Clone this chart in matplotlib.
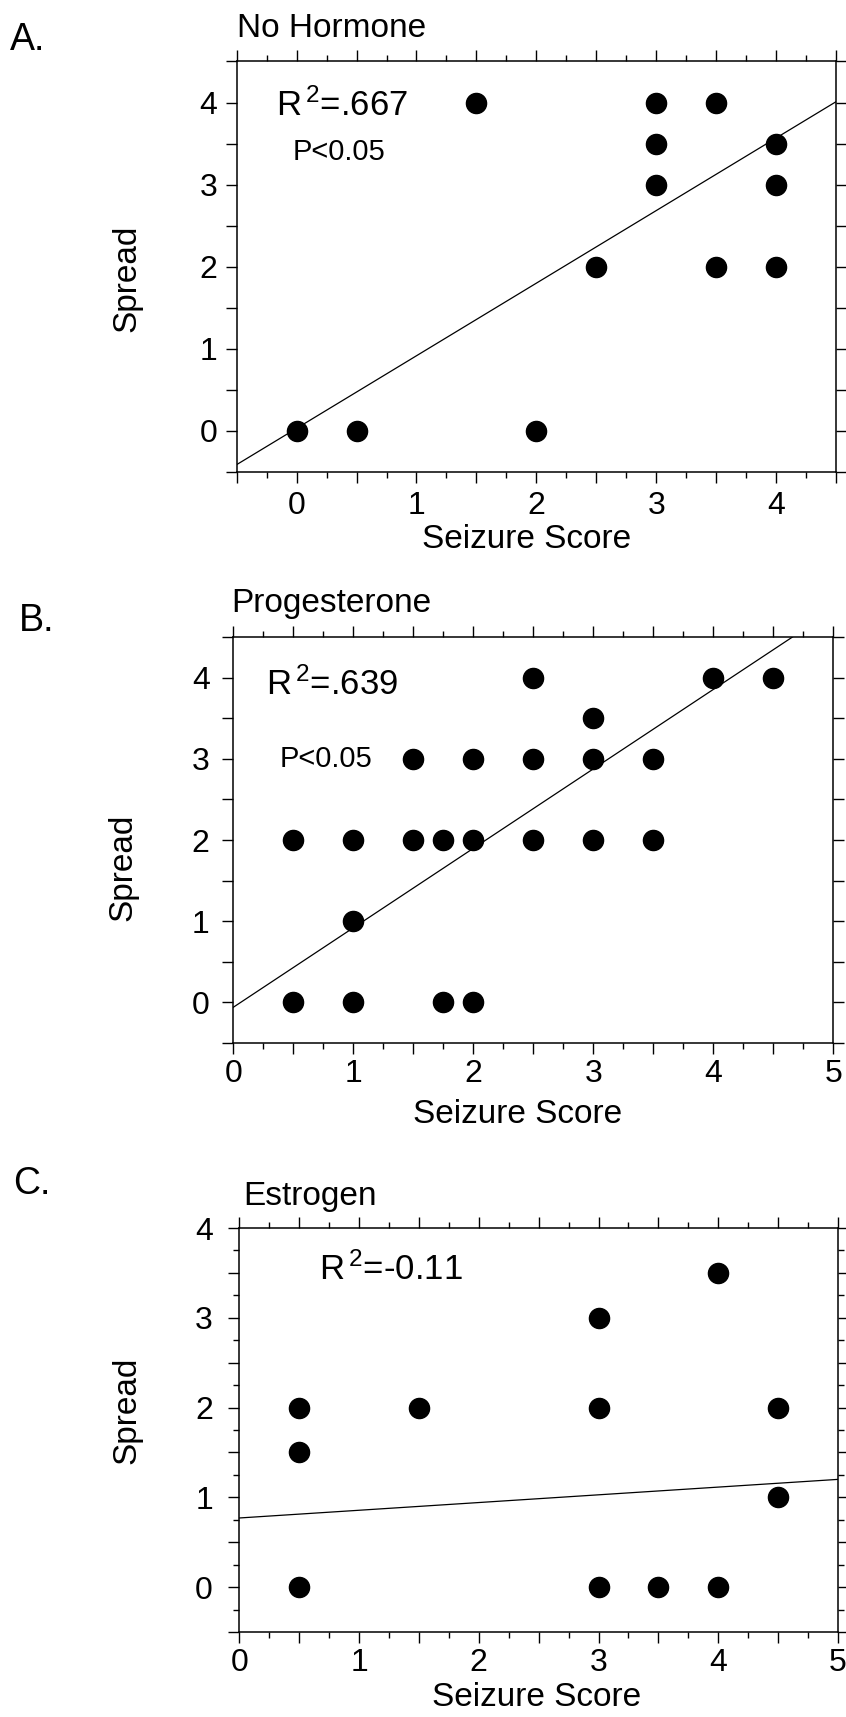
import numpy as np
import matplotlib
matplotlib.use('Agg')
import matplotlib.pyplot as plt
from matplotlib.ticker import MultipleLocator, FuncFormatter

plt.rcParams['font.family'] = ['Liberation Sans', 'DejaVu Sans']
plt.rcParams['mathtext.fontset'] = 'custom'
plt.rcParams['mathtext.rm'] = 'Liberation Sans'
plt.rcParams['mathtext.default'] = 'regular'

W, H = 846, 1717

# A. no hormone
a_score = [0, 0.5, 2, 1.5, 2.5, 3, 3, 3, 3.5, 3.5, 4, 4, 4]
a_spread = [0, 0, 0, 4, 2, 4, 3.5, 3, 4, 2, 3.5, 3, 2]
a_fit_x = [-0.5, 4.5]
a_fit_y = [-0.41, 4.01]

# B. progesterone
b_score = [0.5, 1, 1.5, 1.75, 2, 2.5, 3, 3.5,
           1.5, 2, 2.5, 3, 3.5,
           2.5, 4, 4.5, 3, 1,
           0.5, 1, 1.75, 2]
b_spread = [2, 2, 2, 2, 2, 2, 2, 2,
            3, 3, 3, 3, 3,
            4, 4, 4, 3.5, 1,
            0, 0, 0, 0]
b_fit_x = [0, 4.66]
b_fit_y = [-0.06, 4.5]

# C. estrogen
c_score = [0.5, 0.5, 0.5, 1.5, 3, 3, 3, 3.5, 4, 4, 4.5, 4.5]
c_spread = [2, 1.5, 0, 2, 3, 2, 0, 0, 3.5, 0, 2, 1]
c_fit_x = [0, 5]
c_fit_y = [0.77, 1.2]


def fx(x):
    return x / W


def fy(y):
    return 1 - y / H


def int_only(v, pos):
    if abs(v - round(v)) < 1e-6:
        return '%d' % round(v)
    return ''


fig = plt.figure(figsize=(W / 100, H / 100), dpi=100)


def make_panel(rect, xlim, ylim, y_minor, xpad, ypad):
    l, t, r, b = rect
    ax = fig.add_axes([fx(l), fy(b), (r - l) / W, (b - t) / H])
    ax.set_xlim(*xlim)
    ax.set_ylim(*ylim)
    ax.xaxis.set_major_locator(MultipleLocator(0.5))
    ax.xaxis.set_minor_locator(MultipleLocator(0.25))
    ax.yaxis.set_major_locator(MultipleLocator(0.5))
    if y_minor:
        ax.yaxis.set_minor_locator(MultipleLocator(0.25))
    else:
        ax.yaxis.set_minor_locator(MultipleLocator(10))
    ax.xaxis.set_major_formatter(FuncFormatter(int_only))
    ax.yaxis.set_major_formatter(FuncFormatter(int_only))
    ax.tick_params(which='both', direction='out', top=True, right=True, width=1.0)
    ax.tick_params(which='major', length=8, labelsize=23)
    ax.tick_params(which='minor', length=4)
    ax.tick_params(axis='x', which='major', pad=xpad)
    ax.tick_params(axis='y', which='major', pad=ypad)
    for s in ax.spines.values():
        s.set_linewidth(1.1)
    return ax


panels = [
    ((236.7, 61.5, 836, 472), (-0.5, 4.5), (-0.5, 4.5), False, 6, 6,
     a_score, a_spread, a_fit_x, a_fit_y),
    ((233.3, 637, 833.3, 1043), (0, 5), (-0.5, 4.5), False, 3.5, 9,
     b_score, b_spread, b_fit_x, b_fit_y),
    ((239.3, 1228, 838, 1632), (0, 5), (-0.5, 4), True, 3.5, 11,
     c_score, c_spread, c_fit_x, c_fit_y),
]

for rect, xlim, ylim, y_minor, xpad, ypad, xs, ys, lx, ly in panels:
    ax = make_panel(rect, xlim, ylim, y_minor, xpad, ypad)
    ax.plot(lx, ly, color='black', lw=0.9, zorder=2)
    ax.plot(xs, ys, 'o', ms=14.5, color='black', zorder=3, clip_on=False)

# panel letters and titles
fig.text(fx(10), fy(50), 'A.', fontsize=27, va='baseline')
fig.text(fx(19), fy(631), 'B.', fontsize=27, va='baseline')
fig.text(fx(13), fy(1194), 'C.', fontsize=27, va='baseline')

fig.text(fx(237), fy(37), 'No Hormone', fontsize=24, va='baseline')
fig.text(fx(231), fy(612), 'Progesterone', fontsize=24, va='baseline')
fig.text(fx(243), fy(1205), 'Estrogen', fontsize=24, va='baseline')

# statistics
fig.text(fx(276), fy(116), r'R$^{\,2}$=.667', fontsize=25, va='baseline')
fig.text(fx(293), fy(160), 'P<0.05', fontsize=21, va='baseline')
fig.text(fx(266), fy(695), r'R$^{\,2}$=.639', fontsize=25, va='baseline')
fig.text(fx(280), fy(767), 'P<0.05', fontsize=21, va='baseline')
fig.text(fx(319), fy(1280), r'R$^{\,2}$=-0.11', fontsize=25, va='baseline')

# axis labels
for cx, cy in [(127, 278), (123, 867), (127, 1410)]:
    fig.text(fx(cx), fy(cy), 'Spread', fontsize=24, rotation=90,
             ha='center', va='center')
for cx, cy in [(527, 540), (518, 1114), (537, 1697)]:
    fig.text(fx(cx), fy(cy), 'Seizure Score', fontsize=24,
             ha='center', va='center')

plt.savefig('out.png', dpi=100)
plt.close()
